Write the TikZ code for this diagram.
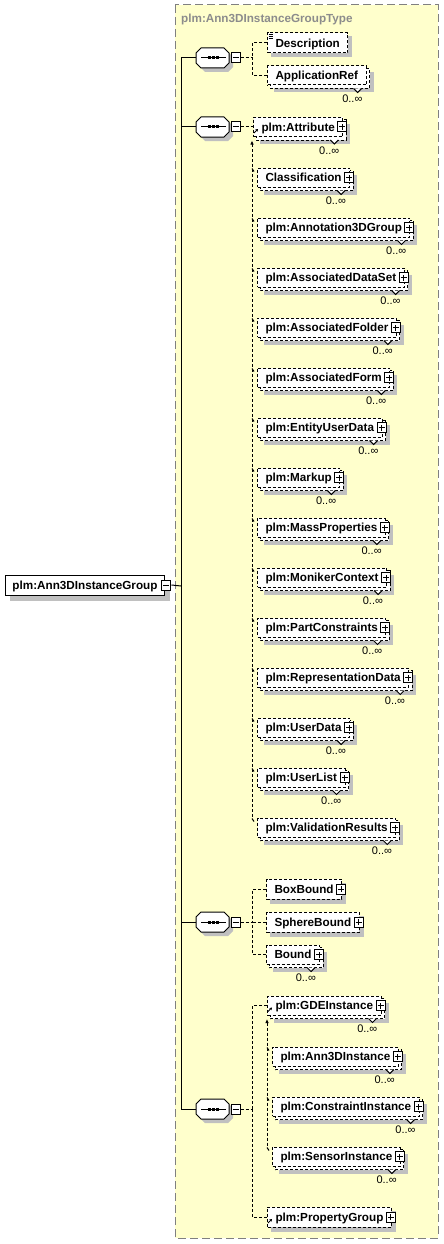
\documentclass[tikz,border=0pt]{standalone}
\usepackage{fontspec}
\setmainfont{Liberation Sans}
\usetikzlibrary{arrows.meta}
\pgfdeclarelayer{bg}
\pgfdeclarelayer{shd}
\pgfdeclarelayer{back}
\pgfsetlayers{bg,shd,back,main}
\definecolor{bgyellow}{RGB}{255,255,204}
\definecolor{shadowgray}{RGB}{192,192,192}
\definecolor{bordergray}{RGB}{128,128,128}
\definecolor{titlegray}{RGB}{140,140,140}
\tikzset{
  ln/.style={line width=1pt, black},
  conn/.style={line width=1pt, dash pattern=on 3pt off 2pt},
  elem/.style={draw, line width=1pt, dash pattern=on 3pt off 2pt, fill=white,
    font=\bfseries\fontsize{11.7}{13}\selectfont, inner xsep=8pt, inner ysep=0pt,
    minimum height=19pt, text height=8.4pt, text depth=0pt, anchor=west},
  single/.style={minimum height=20pt},
  rootelem/.style={elem, solid, minimum height=20pt, inner xsep=7pt},
  backbox/.style={draw, line width=1pt, dash pattern=on 3pt off 2pt, fill=white},
  shadowfill/.style={fill=shadowgray},
  pm/.style={draw, solid, line width=1pt, fill=white, minimum width=9pt, minimum height=10pt, inner sep=0pt},
  plusbox/.style={pm, path picture={\draw[line width=1pt]
     ([xshift=-3pt]path picture bounding box.center) -- ([xshift=3pt]path picture bounding box.center)
     ([yshift=-3pt]path picture bounding box.center) -- ([yshift=3pt]path picture bounding box.center);}},
  minusbox/.style={pm, path picture={\draw[line width=1pt]
     ([xshift=-3pt]path picture bounding box.center) -- ([xshift=3pt]path picture bounding box.center);}},
  mult/.style={font=\fontsize{11}{12}\selectfont, inner sep=0pt, anchor=base east},
  seqnode/.style={rectangle, minimum width=33pt, minimum height=20pt, inner sep=0pt},
  typebox/.style={fill=bgyellow, draw=bordergray, line width=1pt, dash pattern=on 8pt off 4pt},
  titletext/.style={font=\bfseries\fontsize{11.7}{13}\selectfont, text=titlegray, anchor=west, inner sep=0pt, text height=8.4pt, text depth=0pt},
  refarr/.style={line width=0.8pt, -{Stealth[length=2.5pt,width=3pt]}},
  subst/.style={conn, {Latex[length=4pt,width=3.5pt]}-},
}
\newcommand{\mshadow}[2]{%
  \begin{pgfonlayer}{shd}\fill[shadowfill] ([shift={(#2,#2)}]#1.north west) rectangle ([shift={(#2,#2)}]#1.south east);\end{pgfonlayer}}
\newcommand{\multiback}[1]{%
  \begin{pgfonlayer}{back}\draw[backbox] ([shift={(3,3)}]#1.north west) rectangle ([shift={(3,3)}]#1.south east);\end{pgfonlayer}
  \mshadow{#1}{7}
  \draw[ln, fill=white] ([shift={(-13,3)}]#1.south east) -- ++(4,4) -- ++(4,-4);
  \node[mult] (#1m) at ([shift={(-4,27)}]#1.east) {0..∞};}
\newcommand{\singleel}[4]{%
  \node[elem,single] (#1) at (#2,#3) {#4\hspace{6pt}};
  \mshadow{#1}{4}
  \node[plusbox] (#1p) at ([xshift=-1pt]#1.east) {};}
\newcommand{\multiel}[4]{%
  \node[elem] (#1) at (#2,#3) {#4\hspace{6pt}};
  \multiback{#1}
  \node[plusbox] (#1p) at ([xshift=-1pt]#1.east) {};}
\newcommand{\memberel}[4]{%
  \multiel{#1}{#2}{#3}{#4}
  \draw[ln] ([shift={(-5,-9)}]#1.west) -- ++(2,3);}
\newcommand{\refmark}[1]{\draw[refarr] ([shift={(1,6)}]#1.west) -- ++(4,-4);}
\newcommand{\seqsym}[2]{%
  \node[seqnode] (#1) at (212.5,#2) {};
  \begin{scope}[shift={(212.5,#2)}]
    \fill[shadowgray] (-12.5,-1) -- (-7.5,-6) -- (15.5,-6) -- (20.5,-1) -- (20.5,9) -- (15.5,14) -- (-7.5,14) -- (-12.5,9) -- cycle;
    \filldraw[ln, fill=white] (-16.5,-5) -- (-11.5,-10) -- (11.5,-10) -- (16.5,-5) -- (16.5,5) -- (11.5,10) -- (-11.5,10) -- (-16.5,5) -- cycle;
    \draw[ln] (-11.5,0) -- (13.5,0);
    \fill (-4.5,-1.5) rectangle ++(3,3);
    \fill (-0.5,-1.5) rectangle ++(3,3);
    \fill (3.5,-1.5) rectangle ++(3,3);
  \end{scope}
  \node[minusbox] (#1m) at (235.5,#2) {};}

\begin{document}
\begin{tikzpicture}[x=1pt,y=-1pt]
\useasboundingbox (0,0) rectangle (444,1244);
\begin{pgfonlayer}{bg}
  \draw[typebox] (175,5) rectangle (438,1238);
\end{pgfonlayer}
\node[titletext] (title) at (181,18) {plm:Ann3DInstanceGroupType};

% root element
\node[rootelem] (root) at (5,585) {plm:Ann3DInstanceGroup\hspace{10pt}};
\mshadow{root}{5}
\node[minusbox] (rootm) at ([xshift=1.5pt]root.east) {};

% sequences
\seqsym{s1}{58}
\seqsym{s2}{127}
\seqsym{s3}{922}
\seqsym{s4}{1109}

\coordinate (tk) at (181,586);
\draw[ln] (rootm.east) -- (tk);
\draw[ln] (s1.west) -| (tk);
\draw[ln] (s4.west) -| (tk);
\draw[ln] (s2.west) -- (s2.west -| tk);
\draw[ln] (s3.west) -- (s3.west -| tk);

% sequence 1
\node[elem,single] (desc) at (267,43) {Description};
\mshadow{desc}{4}
\draw[ln, line width=0.8pt] ([shift={(1.5,1.5)}]desc.north west) -- ++(4,0)
      ([shift={(1.5,3.5)}]desc.north west) -- ++(4,0)
      ([shift={(1.5,5.5)}]desc.north west) -- ++(4,0);
\node[elem] (appref) at (267,75.5) {ApplicationRef};
\multiback{appref}
\draw[conn] (s1m.east) -- ++(12,0) coordinate (j1);
\draw[conn] (desc.west) -| (j1);
\draw[conn] (appref.west) -| (j1);

% sequence 2
\multiel{attr}{253}{127}{plm:Attribute}
\refmark{attr}
\draw[conn] (s2m.east) -- (attr.west);
\memberel{cls}{257}{177.5}{Classification}
\memberel{ann}{257}{227.5}{plm:Annotation3DGroup}
\memberel{ads}{257}{277.5}{plm:AssociatedDataSet}
\memberel{afo}{257}{327.5}{plm:AssociatedFolder}
\memberel{afm}{257}{377.5}{plm:AssociatedForm}
\memberel{eud}{257}{427.5}{plm:EntityUserData}
\memberel{mku}{257}{477.5}{plm:Markup}
\memberel{mpr}{257}{527.5}{plm:MassProperties}
\memberel{mon}{257}{577.5}{plm:MonikerContext}
\memberel{pco}{257}{627.5}{plm:PartConstraints}
\memberel{rep}{257}{677.5}{plm:RepresentationData}
\memberel{usd}{257}{727.5}{plm:UserData}
\memberel{usl}{257}{777.5}{plm:UserList}
\memberel{val}{257}{827.5}{plm:ValidationResults}
\draw[subst] ([shift={(-1,3.5)}]attr.south west) -- ([shift={(-5,-9)}]val.west);

% sequence 3
\singleel{bbox}{266}{889}{BoxBound}
\singleel{sbox}{266}{922}{SphereBound}
\multiel{bnd}{266}{954.5}{Bound}
\draw[conn] (s3m.east) -- ++(12,0) coordinate (j3);
\draw[conn] (bbox.west) -| (j3);
\draw[conn] (sbox.west) -- (j3);
\draw[conn] (bnd.west) -| (j3);

% sequence 4
\multiel{gde}{267}{1005.5}{plm:GDEInstance}
\refmark{gde}
\singleel{pgr}{267}{1217}{plm:PropertyGroup}
\refmark{pgr}
\draw[conn] (s4m.east) -- ++(12,0) coordinate (j4);
\draw[conn] (gde.west) -| (j4);
\draw[conn] (pgr.west) -| (j4);
\memberel{a3d}{272}{1056.5}{plm:Ann3DInstance}
\memberel{cin}{272}{1106.5}{plm:ConstraintInstance}
\memberel{sin}{272}{1156.5}{plm:SensorInstance}
\draw[subst] ([shift={(0,3.5)}]gde.south west) -- ([shift={(-5,-9)}]sin.west);
\end{tikzpicture}
\end{document}
